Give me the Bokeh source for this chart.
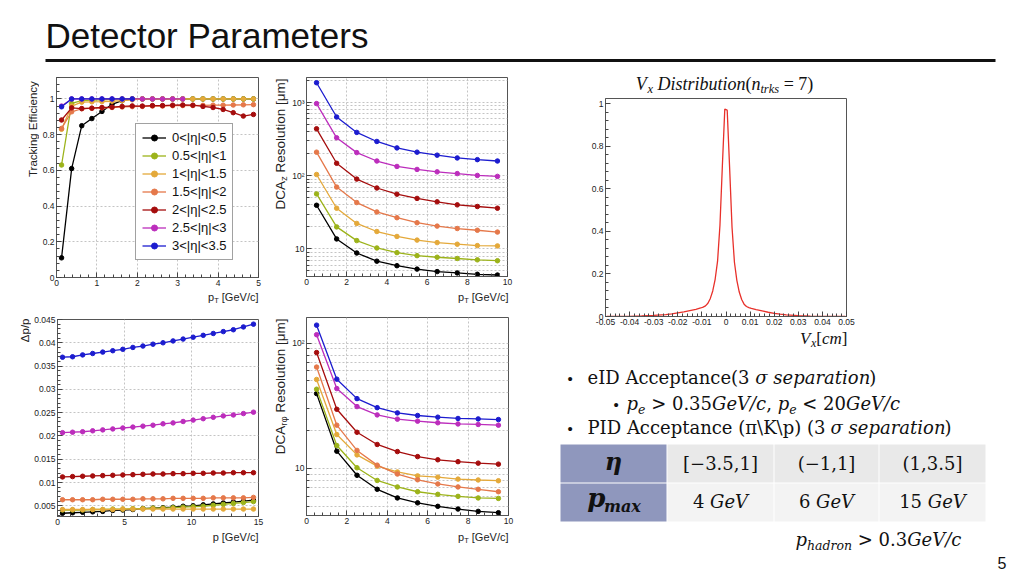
import math
from bokeh.plotting import figure
from bokeh.layouts import column, row
from bokeh.models import Range1d, Legend, LegendItem, FixedTicker
from bokeh.core.properties import value
from bokeh.embed import file_html
from bokeh.resources import INLINE

SANS = "Liberation Sans"
SERIF = "DejaVu Serif"
TSERIF = "Liberation Serif"

# ---------------------------------------------------------------- data
eta_labels = ["0<|η|<0.5", "0.5<|η|<1", "1<|η|<1.5", "1.5<|η|<2",
              "2<|η|<2.5", "2.5<|η|<3", "3<|η|<3.5"]
eta_colors = ["#000000", "#9cb31a", "#e4a93a", "#e5784a",
              "#a50d0d", "#bc2dbc", "#1c1ccf"]

# tracking efficiency vs pT
eff_pt = [0.125, 0.375, 0.625, 0.875, 1.125, 1.375, 1.625, 1.875, 2.125, 2.375,
          2.625, 2.875, 3.125, 3.375, 3.625, 3.875, 4.125, 4.375, 4.625, 4.875]
eff_eta0 = [0.11, 0.61, 0.85, 0.89, 0.93, 0.97, 0.99, 1.0, 1.0, 1.0,
            1.0, 1.0, 1.0, 1.0, 1.0, 1.0, 1.0, 1.0, 1.0, 1.0]
eff_eta1 = [0.63, 0.975, 0.99, 0.993, 0.995, 0.997, 1.0, 1.0, 1.0, 1.0,
            1.0, 1.0, 1.0, 1.0, 1.0, 1.0, 1.0, 1.0, 1.0, 1.0]
eff_eta2 = [0.83, 0.96, 0.982, 0.984, 0.985, 0.987, 0.99, 0.995, 1.0, 1.0,
            1.0, 1.0, 1.0, 1.0, 1.0, 1.0, 1.0, 1.0, 1.0, 1.0]
eff_eta3 = [0.835, 0.928, 0.945, 0.948, 0.95, 0.952, 0.955, 0.957, 0.958, 0.96,
            0.96, 0.962, 0.963, 0.963, 0.964, 0.965, 0.965, 0.966, 0.967, 0.968]
eff_eta4 = [0.882, 0.95, 0.946, 0.948, 0.952, 0.954, 0.958, 0.961, 0.96, 0.963,
            0.963, 0.965, 0.966, 0.965, 0.958, 0.952, 0.941, 0.923, 0.904, 0.913]
eff_eta5 = [0.96, 1.0, 1.0, 1.0, 1.0, 1.0, 1.0, 1.0, 1.0, 1.0, 1.0, 1.0, 1.0]
eff_eta6 = [0.956, 1.0, 1.0, 1.0, 1.0, 1.0, 1.0, 1.0]
eff_series = [eff_eta0, eff_eta1, eff_eta2, eff_eta3, eff_eta4, eff_eta5, eff_eta6]

# DCA_z resolution [um] vs pT
dca_pt = [0.5, 1.5, 2.5, 3.5, 4.5, 5.5, 6.5, 7.5, 8.5, 9.5]
dcaz_eta0 = [39.5, 13.7, 8.8, 6.8, 5.9, 5.3, 4.9, 4.7, 4.5, 4.4]
dcaz_eta1 = [56.5, 20.0, 13.0, 10.3, 8.9, 8.1, 7.7, 7.4, 7.1, 6.9]
dcaz_eta2 = [104, 36.0, 22.3, 17.3, 14.8, 13.2, 12.2, 11.6, 11.1, 11.0]
dcaz_eta3 = [210, 70.0, 43.0, 32.0, 26.7, 22.8, 20.5, 19.0, 18.0, 17.0]
dcaz_eta4 = [438, 148, 90, 68, 56, 49, 44, 40, 38, 36]
dcaz_eta5 = [968, 330, 207, 159, 134, 122, 113, 107, 101, 98]
dcaz_eta6 = [1866, 635, 391, 294, 240, 210, 191, 175, 166, 159]
dcaz_series = [dcaz_eta0, dcaz_eta1, dcaz_eta2, dcaz_eta3, dcaz_eta4, dcaz_eta5, dcaz_eta6]

# momentum resolution dp/p vs p
dpp_p = [0.375, 1.125, 1.875, 2.625, 3.375, 4.125, 4.875, 5.625, 6.375, 7.125,
         7.875, 8.625, 9.375, 10.125, 10.875, 11.625, 12.375, 13.125, 13.875, 14.625]
dpp_eta0 = [0.0034, 0.0035, 0.0036, 0.0037, 0.0038, 0.0040, 0.0041, 0.0042, 0.0044, 0.0045,
            0.0046, 0.0047, 0.0049, 0.0050, 0.0052, 0.0054, 0.0056, 0.0058, 0.0060, 0.0062]
dpp_eta1 = [0.0041, 0.0041, 0.0041, 0.0042, 0.0042, 0.0043, 0.0043, 0.0044, 0.0044, 0.0045,
            0.0045, 0.0046, 0.0047, 0.0048, 0.0049, 0.0051, 0.0053, 0.0055, 0.0057, 0.0059]
dpp_eta2 = [0.0042, 0.0042, 0.0042, 0.0042, 0.0042, 0.0042, 0.0043, 0.0043, 0.0043, 0.0043,
            0.0043, 0.0043, 0.0043, 0.0043, 0.0043, 0.0043, 0.0043, 0.0043, 0.0043, 0.0043]
dpp_eta3 = [0.0063, 0.0063, 0.0063, 0.0063, 0.0064, 0.0064, 0.0064, 0.0064, 0.0065, 0.0065,
            0.0065, 0.0066, 0.0066, 0.0066, 0.0066, 0.0067, 0.0067, 0.0067, 0.0067, 0.0068]
dpp_eta4 = [0.0112, 0.01127, 0.01134, 0.01141, 0.01148, 0.01155, 0.01162, 0.01169, 0.01176, 0.01183,
            0.01183, 0.0119, 0.0119, 0.01197, 0.01197, 0.01204, 0.01204, 0.01211, 0.01211, 0.01211]
dpp_eta5 = [0.0207, 0.0208, 0.0209, 0.0211, 0.0213, 0.0215, 0.0217, 0.0219, 0.0221, 0.0223,
            0.0226, 0.0228, 0.0231, 0.0234, 0.0237, 0.0240, 0.0243, 0.0245, 0.0248, 0.0251]
dpp_eta6 = [0.0369, 0.0370, 0.0374, 0.0377, 0.0380, 0.0383, 0.0386, 0.0390, 0.0393, 0.0397,
            0.0400, 0.0404, 0.0408, 0.0412, 0.0416, 0.0420, 0.0424, 0.0428, 0.0434, 0.0440]
dpp_series = [dpp_eta0, dpp_eta1, dpp_eta2, dpp_eta3, dpp_eta4, dpp_eta5, dpp_eta6]

# DCA_rphi resolution [um] vs pT
dcar_eta0 = [39.5, 13.7, 8.8, 6.8, 5.8, 5.3, 4.97, 4.73, 4.53, 4.42]
dcar_eta1 = [42.8, 15.2, 10.1, 8.0, 7.1, 6.5, 6.2, 5.97, 5.8, 5.75]
dcar_eta2 = [51.2, 18.6, 12.8, 10.4, 9.35, 8.7, 8.5, 8.2, 8.07, 7.96]
dcar_eta3 = [64.3, 22.1, 13.9, 10.6, 9.0, 8.1, 7.5, 7.1, 6.8, 6.5]
dcar_eta4 = [84, 29.6, 19.4, 15.5, 13.6, 12.4, 11.7, 11.3, 11.0, 10.8]
dcar_eta5 = [116.6, 43.3, 31.1, 26.7, 24.7, 23.8, 23.1, 22.6, 22.4, 22.1]
dcar_eta6 = [139, 51.5, 36.0, 30.5, 27.7, 26.4, 25.6, 25.0, 24.8, 24.5]
dcar_series = [dcar_eta0, dcar_eta1, dcar_eta2, dcar_eta3, dcar_eta4, dcar_eta5, dcar_eta6]

# Vx distribution (n_trks = 7)
vx_pos = [-0.0495, -0.045, -0.04, -0.035, -0.03, -0.025, -0.0225, -0.02, -0.0175, -0.015,
          -0.0125, -0.0105, -0.0095, -0.0085, -0.0075, -0.0065, -0.0055, -0.0045, -0.0035,
          -0.0025, -0.0015, -0.0005, 0.0005, 0.0015, 0.0025, 0.0035, 0.0045, 0.0055, 0.0065,
          0.0075, 0.0085, 0.0095, 0.0105, 0.0125, 0.015, 0.0175, 0.02, 0.0225, 0.025, 0.03,
          0.035, 0.04, 0.045, 0.0495]
vx_val = [0.0002, 0.0005, 0.001, 0.0025, 0.005, 0.009, 0.012, 0.017, 0.022, 0.028,
          0.034, 0.040, 0.044, 0.050, 0.062, 0.085, 0.12, 0.175, 0.26,
          0.43, 0.71, 0.975, 0.970, 0.70, 0.42, 0.255, 0.17, 0.115, 0.08,
          0.058, 0.047, 0.042, 0.038, 0.032, 0.026, 0.020, 0.015, 0.011, 0.008, 0.004,
          0.002, 0.001, 0.0005, 0.0002]

# PID table
table_eta = ["[−3.5,1]", "(−1,1]", "(1,3.5]"]
table_pmax = ["4", "6", "15"]

# ---------------------------------------------------------------- text metrics
ARIAL = {' ': .278, '.': .278, ',': .278, '[': .278, ']': .278, '/': .278, '(': .333, ')': .333,
         '<': .584, '>': .584, '=': .584, '|': .26, 'η': .556, 'μ': .576, 'φ': .65, 'Δ': .668,
         'A': .667, 'C': .722, 'D': .722, 'E': .667, 'G': .778, 'R': .722, 'T': .611, 'V': .667,
         'a': .556, 'c': .5, 'e': .556, 'f': .278, 'g': .556, 'i': .222, 'k': .5, 'l': .222,
         'm': .833, 'n': .556, 'o': .556, 'p': .556, 'r': .333, 's': .5, 't': .278, 'u': .556,
         'y': .5, 'z': .5}
TIMES = {' ': .25, '(': .333, ')': .333, '[': .333, ']': .333, '=': .564, 'V': .65, 'D': .72,
         'x': .44, 'i': .278, 's': .389, 't': .278, 'r': .389, 'k': .444, 'c': .444, 'm': .722}
DJV = {' ': .318, '.': .318, ',': .318, '(': .39, ')': .39, '[': .39, ']': .39, '/': .337,
       '\\': .337, '=': .838, '>': .838, '<': .838, '−': .838, 'A': .722, 'C': .734, 'D': .802,
       'G': .8, 'I': .4, 'K': .765, 'P': .677, 'V': .722, 'a': .596, 'c': .56, 'd': .64,
       'e': .592, 'h': .644, 'i': .32, 'm': .948, 'n': .644, 'o': .602, 'p': .64, 'r': .478,
       's': .513, 't': .402, 'x': .565, 'σ': .634, 'π': .6, 'η': .64}
for _d in "0123456789":
    ARIAL[_d] = .556
    TIMES[_d] = .5
    DJV[_d] = .636
METRICS = {SANS: (ARIAL, .556), TSERIF: (TIMES, .5), SERIF: (DJV, .6)}
MID = 0.35   # the drawn text is centred this many ems above the given baseline


def R(text, size, font=SERIF, style="normal", shift=0, color="#111111"):
    return dict(text=text, size=size, font=font, style=style, shift=shift, color=color)


def tw(text, size, font):
    tbl, d = METRICS[font]
    return sum(tbl.get(c, d) for c in text) * size


def rw(r):
    return tw(r["text"], r["size"], r["font"])


def split_spaces(r):
    t = r["text"]
    core = t.strip(" ")
    lead = len(t) - len(t.lstrip(" "))
    return tw(" " * lead, r["size"], r["font"]), core


def no_align(p):
    if "frame_align" in p.properties():
        p.frame_align = False


class Sheet:
    """A blank drawing area placed at (left, top) on the page, in page pixels."""

    def __init__(self, left, top, w, h):
        self.left, self.top, self.w, self.h = left, top, w, h
        p = figure(width=w, height=h, x_range=Range1d(0, w), y_range=Range1d(0, h),
                   output_backend="svg", toolbar_location=None, min_border=0)
        p.axis.visible = False
        p.grid.visible = False
        p.outline_line_color = None
        no_align(p)
        self.fig = p

    def X(self, px):
        return px - self.left

    def Y(self, py):
        return self.h - (py - self.top)

    def txt(self, px, py, text, size, font=SANS, style="normal", color="#111111", angle=0.0):
        self.fig.text(x=[self.X(px)], y=[self.Y(py)], text=[text], angle=angle,
                      text_font=value(font), text_font_size=value(f"{size}px"),
                      text_font_style=value(style), text_color=color,
                      text_align="left", text_baseline="alphabetic")

    def runs(self, px, baseline, runs, align="left"):
        total = sum(rw(r) for r in runs)
        pos = {"left": 0, "center": -total / 2, "right": -total}[align]
        for r in runs:
            lead, core = split_spaces(r)
            self.txt(px + pos + lead, baseline + r["shift"] - MID * r["size"], core, r["size"],
                     r["font"], r["style"], r["color"])
            pos += rw(r)

    def vruns(self, xc, top, runs):
        total = sum(rw(r) for r in runs)
        pos = 0
        for r in runs:
            lead, core = split_spaces(r)
            self.txt(xc + r["shift"], top + total - pos - lead, core, r["size"], r["font"],
                     r["style"], r["color"], angle=math.pi / 2)
            pos += rw(r)

    def box(self, l, r, t, b, color):
        self.fig.quad(left=[self.X(l)], right=[self.X(r)], top=[self.Y(t)], bottom=[self.Y(b)],
                      fill_color=color, line_color=None)


# ---------------------------------------------------------------- ROOT-like panels
GRID = "#c4c4c4"


def root_fig(w, h, xr, yr, bl, br, bt, bb, log=False, grid=True):
    p = figure(width=w, height=h, x_range=Range1d(*xr), y_range=Range1d(*yr),
               y_axis_type=("log" if log else "linear"), output_backend="svg",
               toolbar_location=None, min_border_left=bl, min_border_right=br,
               min_border_top=bt, min_border_bottom=bb)
    no_align(p)
    p.outline_line_color = "#555555"
    p.outline_line_width = 1
    for ax in (p.xaxis[0], p.yaxis[0]):
        ax.axis_line_color = "#555555"
        ax.major_tick_in = 5
        ax.major_tick_out = 0
        ax.minor_tick_in = 3
        ax.minor_tick_out = 0
        ax.major_tick_line_color = "#444444"
        ax.minor_tick_line_color = "#444444"
        ax.major_label_text_font = SANS
        ax.major_label_text_font_size = "8.5px"
        ax.major_label_text_color = "#222222"
        ax.major_label_standoff = 2
    if grid:
        for g in (p.xgrid[0], p.ygrid[0]):
            g.grid_line_color = GRID
            g.grid_line_dash = "2 2"
        if log:
            p.ygrid[0].minor_grid_line_color = GRID
            p.ygrid[0].minor_grid_line_dash = "2 2"
    else:
        p.grid.visible = False
    return p


def set_ticks(ax, grid, major, minor, labels=None):
    t = FixedTicker(ticks=major, minor_ticks=minor)
    ax.ticker = t
    grid.ticker = t
    if labels:
        ax.major_label_overrides = dict(zip(major, labels))


def lin_minor(a, b, step):
    n = int(round((b - a) / step))
    return [round(a + i * step, 6) for i in range(n + 1)]


def log_minor(lo_dec, hi_dec):
    out = []
    for d in range(lo_dec, hi_dec + 1):
        out += [m * 10 ** d for m in range(2, 10)]
    return out


def draw_series(p, xs, series, size=4.5):
    rends = []
    for ys, col in zip(series, eta_colors):
        x = xs[:len(ys)]
        l = p.line(x, ys, line_color=col, line_width=1.3)
        s = p.scatter(x, ys, marker="circle", size=size, fill_color=col, line_color=col)
        rends.append((l, s))
    return rends


AX = "#222222"

# --- panel 1: tracking efficiency  (page x 39..264, y 70..289; frame 56..258 x 77..277)
p1 = root_fig(225, 219, (0, 5), (0, 1.12), 17, 6, 7, 12)
set_ticks(p1.xaxis[0], p1.xgrid[0], [0, 1, 2, 3, 4, 5], lin_minor(0, 5, 0.2))
set_ticks(p1.yaxis[0], p1.ygrid[0], [0, 0.2, 0.4, 0.6, 0.8, 1.0], lin_minor(0, 1.12, 0.04),
          ["0", "0.2", "0.4", "0.6", "0.8", "1"])
r1 = draw_series(p1, eff_pt, eff_series)
legend = Legend(items=[LegendItem(label=lab, renderers=list(rr)) for lab, rr in zip(eta_labels, r1)],
                location=(79, 17), label_text_font=SANS, label_text_font_size="13px",
                label_text_color="#111111", glyph_width=24, glyph_height=15, label_height=15,
                spacing=3, padding=6, margin=0, label_standoff=6,
                border_line_color="#444444", border_line_width=1,
                background_fill_color="white", background_fill_alpha=1.0)
p1.add_layout(legend)

# --- panel 2: DCA_z  (page x 289..520; frame 306..507 x 77..276)
p2 = root_fig(231, 219, (0, 10), (4.2, 2200), 17, 13, 7, 13, log=True)
set_ticks(p2.xaxis[0], p2.xgrid[0], [0, 2, 4, 6, 8, 10], lin_minor(0, 10, 0.4))
set_ticks(p2.yaxis[0], p2.ygrid[0], [10, 100, 1000], log_minor(0, 3), ["10", "10²", "10³"])
draw_series(p2, dca_pt, dcaz_series)

# --- panel 3: dp/p  (page x 31..264, y 305..528; frame 56..258 x 319..516)
p3 = root_fig(233, 223, (0, 15), (0.0027, 0.045), 25, 6, 14, 12)
dpp_ticks = [0.005, 0.01, 0.015, 0.02, 0.025, 0.03, 0.035, 0.04, 0.045]
set_ticks(p3.xaxis[0], p3.xgrid[0], [0, 5, 10, 15], lin_minor(0, 15, 1.0))
set_ticks(p3.yaxis[0], p3.ygrid[0], dpp_ticks, lin_minor(0.003, 0.045, 0.001),
          ["0.005", "0.01", "0.015", "0.02", "0.025", "0.03", "0.035", "0.04", "0.045"])
draw_series(p3, dpp_p, dpp_series)

# --- panel 4: DCA_rphi  (page x 289..520; frame 306..508 x 317..515)
p4 = root_fig(231, 223, (0, 10), (4.2, 160), 17, 12, 12, 13, log=True)
set_ticks(p4.xaxis[0], p4.xgrid[0], [0, 2, 4, 6, 8, 10], lin_minor(0, 10, 0.4))
set_ticks(p4.yaxis[0], p4.ygrid[0], [10, 100], log_minor(0, 2), ["10", "10²"])
draw_series(p4, dca_pt, dcar_series)

# --- axis titles of the four panels
yt1 = Sheet(0, 70, 39, 219)
yt1.vruns(32, 80, [R("Tracking Efficiency", 11.5, SANS, color=AX)])
yt2 = Sheet(264, 70, 25, 219)
yt2.vruns(280, 78, [R("DCA", 13.5, SANS, color=AX), R("z", 9.5, SANS, shift=2.5, color=AX),
                    R(" Resolution [μm]", 13.5, SANS, color=AX)])
yt3 = Sheet(0, 305, 31, 223)
yt3.vruns(24, 318, [R("Δp/p", 11.5, SANS, color=AX)])
yt4 = Sheet(264, 305, 25, 223)
yt4.vruns(280, 318, [R("DCA", 13.5, SANS, color=AX), R("rφ", 9.5, SANS, shift=2.5, color=AX),
                     R(" Resolution [μm]", 13.5, SANS, color=AX)])

pT_runs = [R("p", 11, SANS, color=AX), R("T", 7.5, SANS, shift=3, color=AX),
           R(" [GeV/c]", 11, SANS, color=AX)]
xt_top = Sheet(0, 289, 520, 16)
xt_top.runs(258, 300, pT_runs, align="right")
xt_top.runs(508, 300, pT_runs, align="right")
xt_bot = Sheet(0, 528, 520, 24)
xt_bot.runs(258, 540, [R("p [GeV/c]", 11, SANS, color=AX)], align="right")
xt_bot.runs(508, 540, pT_runs, align="right")

# --- Vx distribution  (page x 520..1024, y 97..328; frame 605..846 x 98..316)
pv = root_fig(504, 231, (-0.05, 0.05), (0, 1.025), 85, 178, 1, 12, grid=False)
vx_ticks = [-0.05, -0.04, -0.03, -0.02, -0.01, 0.0, 0.01, 0.02, 0.03, 0.04, 0.05]
set_ticks(pv.xaxis[0], pv.xgrid[0], vx_ticks, lin_minor(-0.05, 0.05, 0.002),
          ["-0.05", "-0.04", "-0.03", "-0.02", "-0.01", "0", "0.01", "0.02", "0.03", "0.04", "0.05"])
set_ticks(pv.yaxis[0], pv.ygrid[0], [0, 0.2, 0.4, 0.6, 0.8, 1.0], lin_minor(0, 1.0, 0.04),
          ["0", "0.2", "0.4", "0.6", "0.8", "1"])
pv.line(vx_pos, vx_val, line_color="#e8302a", line_width=1.3)

vt = Sheet(520, 70, 504, 27)
vt.runs(724, 90, [R("V", 18, TSERIF, "italic"), R("x", 12.5, TSERIF, "italic", shift=3),
                  R(" Distribution", 18, TSERIF, "italic"), R("(", 18, TSERIF),
                  R("n", 18, TSERIF, "italic"), R("trks", 12.5, TSERIF, "italic", shift=3),
                  R(" = 7)", 18, TSERIF)], align="center")

# ---------------------------------------------------------------- slide title
pt = Sheet(0, 0, 1024, 70)
pt.runs(45, 47, [R("Detector Parameters", 35, SANS)])
pt.fig.line(x=[pt.X(45), pt.X(995)], y=[pt.Y(60), pt.Y(60)], line_color="#111111", line_width=3)

# ---------------------------------------------------------------- bullets, table, notes
px = Sheet(520, 328, 504, 248)
it = "italic"
px.runs(847, 344, [R("V", 17, TSERIF, it), R("x", 12, TSERIF, it, shift=3),
                   R("[", 17, TSERIF), R("cm", 17, TSERIF, it), R("]", 17, TSERIF)], align="right")
for bx, by in [(567, 383), (613, 409), (567, 433)]:
    px.runs(bx, by, [R("•", 15, SANS)])
px.runs(587, 383, [R("eID Acceptance(3 ", 18), R("σ separation", 18, style=it), R(")", 18)])
px.runs(626, 409, [R("p", 18, style=it), R("e", 12.5, style=it, shift=4),
                   R(" > 0.35", 18), R("GeV/c", 18, style=it), R(", ", 18),
                   R("p", 18, style=it), R("e", 12.5, style=it, shift=4),
                   R(" < 20", 18), R("GeV/c", 18, style=it)])
px.runs(587, 433, [R("PID Acceptance (π\\K\\p) (3 ", 18), R("σ separation", 18, style=it),
                   R(")", 18)])
# table cells
px.box(560, 666, 444, 482, "#8f97bd")
px.box(560, 666, 483, 521, "#8f97bd")
for l, r in [(667, 773), (774, 878), (879, 985)]:
    px.box(l, r, 444, 482, "#e9e9e9")
    px.box(l, r, 483, 521, "#f3f3f3")
px.runs(612, 469, [R("η", 24, style="bold italic")], align="center")
px.runs(612, 507, [R("p", 26, style="bold italic"), R("max", 16, style="bold italic", shift=5)],
        align="center")
centers = [720, 826, 932]
for cx, lab in zip(centers, table_eta):
    px.runs(cx, 469, [R(lab, 18)], align="center")
for cx, pm in zip(centers, table_pmax):
    px.runs(cx, 507, [R(pm + " ", 18), R("GeV", 18, style=it)], align="center")
px.runs(795, 545, [R("p", 18, style=it), R("hadron", 12.5, style=it, shift=4),
                   R(" > 0.3", 18), R("GeV/c", 18, style=it)])
px.runs(997, 568, [R("5", 16, SANS)])

left_block = column(row(yt1.fig, p1, yt2.fig, p2), xt_top.fig,
                    row(yt3.fig, p3, yt4.fig, p4), xt_bot.fig)
right_block = column(vt.fig, pv, px.fig)
layout = column(pt.fig, row(left_block, right_block))
open("out.html", "w").write(file_html(layout, INLINE))
